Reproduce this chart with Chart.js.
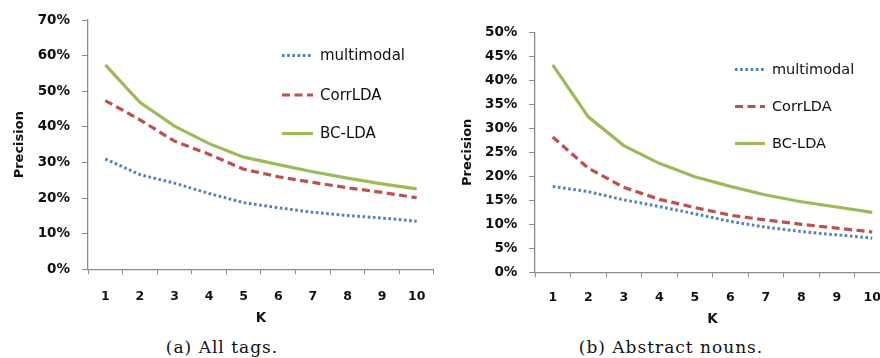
<!DOCTYPE html>
<html>
<head>
<meta charset="utf-8">
<script src="https://cdn.jsdelivr.net/npm/chart.js@4.4.1/dist/chart.umd.min.js"></script>
<style>
  html, body { margin: 0; padding: 0; background: #fff; width: 880px; height: 358px; overflow: hidden; position: relative; }
  .wrap { position: absolute; top: 0; }
  .cap { position: absolute; font-family: "DejaVu Serif", serif; font-size: 17px; letter-spacing: 1px; color: #111; white-space: nowrap; transform: translateX(-50%); }
</style>
</head>
<body>
<div class="wrap" style="left:0px;width:440px;height:330px;"><canvas id="c1" width="440" height="330"></canvas></div>
<div class="wrap" style="left:440px;width:460px;height:330px;"><canvas id="c2" width="460" height="330"></canvas></div>
<div class="cap" style="left:222px;top:337px;">(a) All tags.</div>
<div class="cap" style="left:671px;top:337px;">(b) Abstract nouns.</div>
<script>
const categories = ['1','2','3','4','5','6','7','8','9','10'];
const seriesNames = ['multimodal','CorrLDA','BC-LDA'];

// (a) All tags — precision in %
const allTagsMultimodal = [31.0, 26.6, 24.2, 21.3, 18.7, 17.3, 16.0, 15.1, 14.4, 13.5];
const allTagsCorrLDA    = [47.4, 42.0, 36.0, 32.3, 28.1, 26.0, 24.4, 22.9, 21.6, 20.1];
const allTagsBCLDA      = [57.4, 46.9, 40.2, 35.3, 31.5, 29.4, 27.4, 25.6, 24.0, 22.6];

// (b) Abstract nouns — precision in %
const nounsMultimodal = [17.9, 16.8, 15.1, 13.7, 12.2, 10.6, 9.4, 8.5, 7.8, 7.1];
const nounsCorrLDA    = [28.2, 21.7, 17.7, 15.2, 13.5, 11.9, 10.9, 10.0, 9.2, 8.4];
const nounsBCLDA      = [43.2, 32.4, 26.4, 22.7, 19.9, 17.9, 16.1, 14.7, 13.6, 12.5];

const yTicksA = [0,10,20,30,40,50,60,70];
const yTicksB = [0,5,10,15,20,25,30,35,40,45,50];

const BLUE = '#4f81bd', RED = '#c0504d', GREEN = '#9bbb59', AXIS = '#8c8c8c';
const styles = [
  { color: BLUE, width: 3, dash: [2.6, 2.6] },
  { color: RED, width: 3.2, dash: [8, 4.5] },
  { color: GREEN, width: 3.2, dash: [] }
];

function makeDatasets(arrs) {
  return arrs.map((d, i) => ({
    label: seriesNames[i],
    data: d,
    borderColor: styles[i].color,
    backgroundColor: styles[i].color,
    borderWidth: styles[i].width,
    borderDash: styles[i].dash,
    pointRadius: 0,
    tension: 0,
    fill: false
  }));
}

const legendPlugin = {
  id: 'inlineLegend',
  afterDraw(chart, args, opts) {
    const ctx = chart.ctx;
    ctx.save();
    chart.data.datasets.forEach((ds, i) => {
      const y = opts.ys[i];
      ctx.beginPath();
      ctx.strokeStyle = ds.borderColor;
      ctx.lineWidth = ds.borderWidth;
      ctx.setLineDash(ds.borderDash || []);
      ctx.moveTo(opts.x0, y);
      ctx.lineTo(opts.x1, y);
      ctx.stroke();
      ctx.setLineDash([]);
      ctx.fillStyle = '#111';
      ctx.font = opts.font;
      ctx.textBaseline = 'middle';
      ctx.textAlign = 'left';
      ctx.fillText(ds.label, opts.tx, y + 1);
    });
    ctx.restore();
  }
};

function makeChart(id, arrs, ticks, cfg) {
  const max = ticks[ticks.length - 1];
  return new Chart(document.getElementById(id), {
    type: 'line',
    data: { labels: categories, datasets: makeDatasets(arrs) },
    plugins: [legendPlugin],
    options: {
      responsive: false,
      animation: false,
      devicePixelRatio: 1,
      layout: { padding: { left: 0, top: cfg.top, right: cfg.right, bottom: 0 } },
      plugins: {
        legend: { display: false },
        tooltip: { enabled: false },
        inlineLegend: cfg.legend
      },
      scales: {
        x: {
          offset: true,
          grid: { offset: true, drawOnChartArea: false, tickLength: 5, color: AXIS, lineWidth: 1 },
          border: { color: AXIS, width: 1.3 },
          ticks: { color: '#111', padding: cfg.xPad, font: { family: 'DejaVu Sans', weight: 'bold', size: 12.5 } },
          title: { display: true, text: 'K', color: '#111', padding: { top: 0, bottom: cfg.kPad }, font: { family: 'DejaVu Sans', weight: 'bold', size: 13.5 } },
          afterFit(s) { s.height = 330 - cfg.bottom; }
        },
        y: {
          min: 0, max: max,
          afterBuildTicks(s) { s.ticks = ticks.map(v => ({ value: v })); },
          grid: { drawOnChartArea: false, tickLength: 6, color: AXIS, lineWidth: 1 },
          border: { color: AXIS, width: 1.3 },
          ticks: { color: '#111', padding: cfg.yPad, font: { family: 'DejaVu Sans', weight: 'bold', size: 13.5 }, callback: v => v + '%' },
          title: { display: true, text: 'Precision', color: '#111', padding: { top: cfg.tPad, bottom: 0 }, font: { family: 'DejaVu Sans', weight: 'bold', size: 13 } },
          afterFit(s) { s.width = cfg.left; }
        }
      }
    }
  });
}

makeChart('c1', [allTagsMultimodal, allTagsCorrLDA, allTagsBCLDA], yTicksA, {
  top: 18, bottom: 269.3, left: 88, right: 2.3,
  xPad: 14.5, kPad: 3, yPad: 12, tPad: 11.5,
  legend: { x0: 282, x1: 313, tx: 320, ys: [55.5, 95, 133.5], font: '15px "DejaVu Sans"' }
});

makeChart('c2', [nounsMultimodal, nounsCorrLDA, nounsBCLDA], yTicksB, {
  top: 32.3, bottom: 272.3, left: 95, right: 10,
  xPad: 12.7, kPad: 2.5, yPad: 11.7, tPad: 19.7,
  legend: { x0: 295, x1: 325, tx: 332, ys: [69.5, 106.5, 143.5], font: '14.5px "DejaVu Sans"' }
});
</script>
</body>
</html>
